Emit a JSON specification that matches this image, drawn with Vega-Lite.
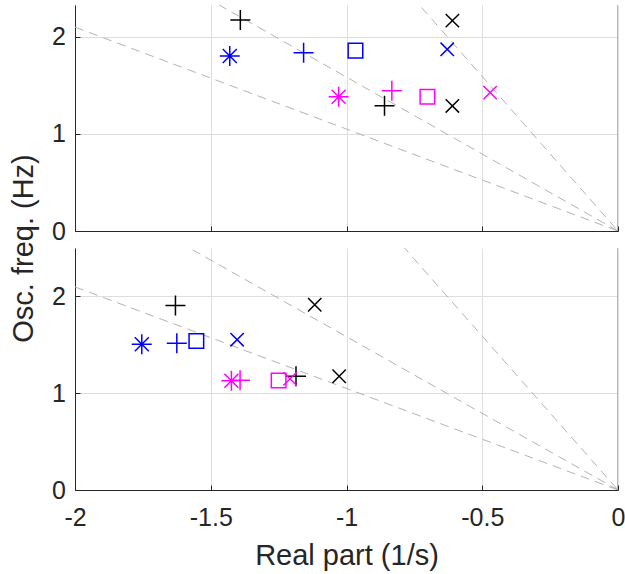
{
  "$schema": "https://vega.github.io/schema/vega-lite/v6.json",
  "background": "white",
  "padding": {"left": 9, "top": 5, "right": 0, "bottom": 0},
  "bounds": "flush",
  "spacing": 17,
  "config": {
    "view": {"stroke": null},
    "axis": {
      "labelFont": "Liberation Sans",
      "titleFont": "Liberation Sans",
      "labelFontSize": 25,
      "titleFontSize": 29,
      "titleFontWeight": "normal",
      "labelColor": "#262626",
      "titleColor": "#262626",
      "domainColor": "#262626",
      "tickColor": "#262626",
      "gridColor": "#dedede",
      "gridWidth": 1,
      "domainWidth": 1,
      "tickWidth": 1,
      "tickSize": -5,
      "labelFlush": false,
      "labelOverlap": false
    }
  },
  "datasets": {
    "zeta": [
      {"zeta": "0.05", "re": 0, "im": 0},
      {"zeta": "0.05", "re": -2, "im": 6.358},
      {"zeta": "0.10", "re": 0, "im": 0},
      {"zeta": "0.10", "re": -2, "im": 3.167},
      {"zeta": "0.15", "re": 0, "im": 0},
      {"zeta": "0.15", "re": -2, "im": 2.098}
    ],
    "edge": [
      {"re": 0, "im": 0, "im2": 3}
    ],
    "top": [
      {"case": "case 1", "method": "plus", "re": -1.391, "im": 2.172},
      {"case": "case 1", "method": "plus", "re": -0.860, "im": 1.290},
      {"case": "case 1", "method": "cross", "re": -0.610, "im": 2.165},
      {"case": "case 1", "method": "cross", "re": -0.610, "im": 1.287},
      {"case": "case 2", "method": "asterisk", "re": -1.430, "im": 1.801},
      {"case": "case 2", "method": "plus", "re": -1.158, "im": 1.835},
      {"case": "case 2", "method": "square", "re": -0.967, "im": 1.856},
      {"case": "case 2", "method": "cross", "re": -0.629, "im": 1.870},
      {"case": "case 3", "method": "asterisk", "re": -1.029, "im": 1.382},
      {"case": "case 3", "method": "plus", "re": -0.833, "im": 1.444},
      {"case": "case 3", "method": "square", "re": -0.702, "im": 1.382},
      {"case": "case 3", "method": "cross", "re": -0.471, "im": 1.424}
    ],
    "bottom": [
      {"case": "case 1", "method": "plus", "re": -1.630, "im": 1.907},
      {"case": "case 1", "method": "plus", "re": -1.186, "im": 1.175},
      {"case": "case 1", "method": "cross", "re": -1.117, "im": 1.914},
      {"case": "case 1", "method": "cross", "re": -1.027, "im": 1.175},
      {"case": "case 2", "method": "asterisk", "re": -1.754, "im": 1.505},
      {"case": "case 2", "method": "plus", "re": -1.625, "im": 1.515},
      {"case": "case 2", "method": "square", "re": -1.553, "im": 1.540},
      {"case": "case 2", "method": "cross", "re": -1.403, "im": 1.553},
      {"case": "case 3", "method": "asterisk", "re": -1.424, "im": 1.128},
      {"case": "case 3", "method": "plus", "re": -1.392, "im": 1.134},
      {"case": "case 3", "method": "square", "re": -1.250, "im": 1.131},
      {"case": "case 3", "method": "cross", "re": -1.208, "im": 1.148}
    ]
  },
  "vconcat": [
    {
      "width": 543,
      "height": 226,
      "encoding": {
        "x": {
          "field": "re", "type": "quantitative",
          "scale": {"domain": [-2, 0], "nice": false, "zero": false},
          "axis": {"values": [-2, -1.5, -1, -0.5, 0], "labels": false, "title": null, "grid": true}
        },
        "y": {
          "field": "im", "type": "quantitative",
          "scale": {"domain": [0, 2.326], "nice": false, "zero": false},
          "axis": {
            "values": [0, 1, 2], "grid": true, "labelPadding": 14.7,
            "labelExpr": "'' + datum.value",
            "title": "Osc. freq. (Hz)", "titleX": -42.7, "titleY": 243,
            "titleBaseline": "alphabetic", "titleAlign": "center", "titleAngle": 270
          }
        }
      },
      "layer": [
        {
          "data": {"name": "zeta"},
          "mark": {"type": "line", "clip": true, "color": "#b3b3b3", "strokeWidth": 1, "strokeDash": [9, 6]},
          "encoding": {"detail": {"field": "zeta"}}
        },
        {
          "data": {"name": "edge"},
          "mark": {"type": "rule", "clip": true, "color": "#a0a0a0", "strokeWidth": 1.5},
          "encoding": {"y2": {"field": "im2"}}
        },
        {
          "data": {"name": "top"},
          "mark": {"type": "point", "filled": false, "strokeWidth": 1.5, "size": 400, "opacity": 1},
          "encoding": {
            "color": {"field": "case", "type": "nominal", "legend": null,
              "scale": {"domain": ["case 1", "case 2", "case 3"], "range": ["#000000", "#0000ff", "#ff00ff"]}},
            "shape": {"field": "method", "type": "nominal", "legend": null,
              "scale": {"domain": ["plus", "asterisk", "square", "cross"],
                "range": ["M-1,0H1M0,-1V1", "M-1,0H1M0,-1V1M-0.7,-0.7L0.7,0.7M-0.7,0.7L0.7,-0.7", "M-0.73,-0.73H0.73V0.73H-0.73Z", "M-0.67,-0.67L0.67,0.67M-0.67,0.67L0.67,-0.67"]}}
          }
        }
      ]
    },
    {
      "width": 543,
      "height": 242,
      "encoding": {
        "x": {
          "field": "re", "type": "quantitative",
          "scale": {"domain": [-2, 0], "nice": false, "zero": false},
          "axis": {
            "values": [-2, -1.5, -1, -0.5, 0], "grid": true,
            "labelExpr": "'' + datum.value", "labelBaseline": "alphabetic", "labelPadding": 40,
            "title": "Real part (1/s)", "titleX": 271.5, "titleY": 74.3,
            "titleBaseline": "alphabetic", "titleAlign": "center"
          }
        },
        "y": {
          "field": "im", "type": "quantitative",
          "scale": {"domain": [0, 2.5], "nice": false, "zero": false},
          "axis": {"values": [0, 1, 2], "grid": true, "labelPadding": 14.7, "labelExpr": "'' + datum.value", "title": null}
        }
      },
      "layer": [
        {
          "data": {"name": "zeta"},
          "mark": {"type": "line", "clip": true, "color": "#b3b3b3", "strokeWidth": 1, "strokeDash": [9, 6]},
          "encoding": {"detail": {"field": "zeta"}}
        },
        {
          "data": {"name": "edge"},
          "mark": {"type": "rule", "clip": true, "color": "#a0a0a0", "strokeWidth": 1.5},
          "encoding": {"y2": {"field": "im2"}}
        },
        {
          "data": {"name": "bottom"},
          "mark": {"type": "point", "filled": false, "strokeWidth": 1.5, "size": 400, "opacity": 1},
          "encoding": {
            "color": {"field": "case", "type": "nominal", "legend": null,
              "scale": {"domain": ["case 1", "case 2", "case 3"], "range": ["#000000", "#0000ff", "#ff00ff"]}},
            "shape": {"field": "method", "type": "nominal", "legend": null,
              "scale": {"domain": ["plus", "asterisk", "square", "cross"],
                "range": ["M-1,0H1M0,-1V1", "M-1,0H1M0,-1V1M-0.7,-0.7L0.7,0.7M-0.7,0.7L0.7,-0.7", "M-0.73,-0.73H0.73V0.73H-0.73Z", "M-0.67,-0.67L0.67,0.67M-0.67,0.67L0.67,-0.67"]}}
          }
        }
      ]
    }
  ]
}
